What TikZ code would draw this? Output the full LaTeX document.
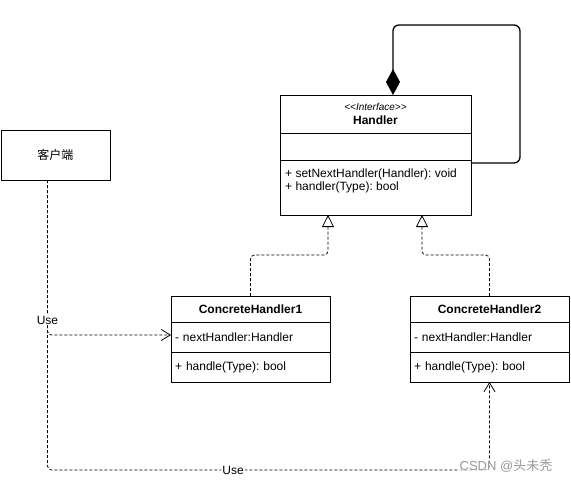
\documentclass[tikz,border=0pt]{standalone}
\usepackage{fontspec}
\setmainfont{Liberation Sans}
\newfontfamily\cjk{Noto Sans CJK SC}
\usetikzlibrary{arrows.meta,positioning}
\newcommand\umlsize{\fontsize{12}{14}\selectfont\frenchspacing}
\begin{document}
\begin{tikzpicture}[x=1pt,y=-1pt,font=\umlsize,
  part/.style={draw,line width=0.8pt,minimum height=#1,inner xsep=4pt,inner ysep=0pt,outer sep=0pt,font=\umlsize},
  usearrow/.style={line width=0.8pt,dash pattern=on 3pt off 2pt,rounded corners=4pt,-{Straight Barb[length=9pt,width=11pt]}},
  realize/.style={line width=0.8pt,dash pattern=on 3pt off 2pt,rounded corners=4pt,-{Triangle[open,length=12pt,width=12pt]}},
  compose/.style={line width=1.3pt,rounded corners=6pt,-{Diamond[length=26pt,width=14pt]}}]
\useasboundingbox (0,0) rectangle (571,485);
\node[draw,line width=0.8pt,minimum width=109pt,minimum height=50pt,outer sep=0pt,anchor=north west,font=\cjk\umlsize] (client) at (1,130) {客户端};
\node[part=38pt,text width=183pt,align=center,anchor=north west] (hhead) at (280,95) {{\fontsize{10}{12}\selectfont\itshape <\kern0pt<Interface>\kern0pt>}\\\textbf{Handler}};
\node[part=27pt,text width=183pt,below=0pt of hhead] (hattr) {};
\node[part=55pt,text width=183pt,below=0pt of hattr] (hmeth) {};
\node[anchor=north west,align=left,inner sep=0pt,font=\fontsize{12}{13}\selectfont\frenchspacing] (hops) at ([xshift=5pt,yshift=-9pt]hmeth.north west) {+ setNextHandler(Handler): void\\+ handler(Type): bool};
\node[part=26pt,text width=151pt,align=center,anchor=north west,font=\umlsize\bfseries] (c1head) at (171,296) {ConcreteHandler1};
\node[part=30pt,text width=151pt,align=left,below=0pt of c1head] (c1attr) {- nextHandler:Handler};
\node[part=30pt,text width=151pt,align=left,below=0pt of c1attr] (c1meth) {+ handle(Type): bool};
\node[part=26pt,text width=151pt,align=center,anchor=north west,font=\umlsize\bfseries] (c2head) at (410,296) {ConcreteHandler2};
\node[part=30pt,text width=151pt,align=left,below=0pt of c2head] (c2attr) {- nextHandler:Handler};
\node[part=30pt,text width=151pt,align=left,below=0pt of c2attr] (c2meth) {+ handle(Type): bool};
\coordinate (loopR) at (520,25);
\coordinate (loopL) at (393,25);
\draw[compose] ([yshift=-3pt]hmeth.north east) -| (loopR) -- (loopL) -- (loopL |- hhead.north);
\coordinate (r1) at (328,255);
\coordinate (r2) at (422,255);
\draw[realize] (c1head.north) |- (r1) -- (r1 |- hmeth.south);
\draw[realize] (c2head.north) |- (r2) -- (r2 |- hmeth.south);
\coordinate (ubend) at (47.5,470);
\draw[usearrow] ([xshift=-8pt]client.south) -- (ubend) -| (c2meth.south) node[pos=0.21,fill=white,inner sep=1pt]{Use};
\draw[usearrow] ([xshift=-8pt]client.south) |- ([yshift=2pt]c1attr.west) node[pos=0.5,yshift=15pt,fill=white,inner sep=1pt]{Use};
\node[text=black!40,font=\fontsize{13}{15}\selectfont,fill=white,fill opacity=0.6,text opacity=1,inner sep=1pt] (mark) at (506,466) {CSDN @{\cjk 头未秃}};
\end{tikzpicture}
\end{document}
